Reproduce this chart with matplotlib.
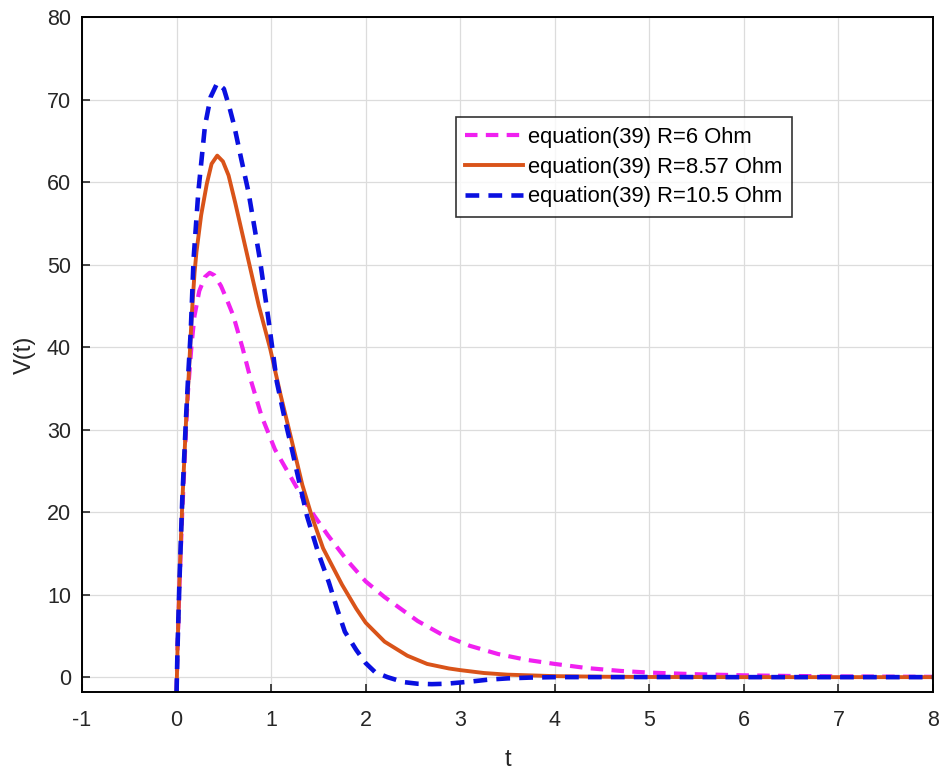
#!/usr/bin/env python3

import numpy as np
import matplotlib
matplotlib.use("Agg")
import matplotlib.pyplot as plt


# values
T_R6 = [0, 0.01, 0.03, 0.06, 0.1, 0.12, 0.16, 0.19, 0.24, 0.3, 0.35, 0.4,
        0.47, 0.53, 0.6, 0.7, 0.79, 0.9, 1.04, 1.2, 1.35, 1.46, 1.6, 1.8,
        2.0, 2.2, 2.55, 2.8, 3.1, 3.4, 3.7, 4.0, 4.34, 4.7, 5.0, 5.5, 6.0,
        6.5, 7.0, 7.5, 8.0]
V_R6 = [-1.8, 3.5, 11, 20, 30, 34.5, 40.5, 43.8, 46.8, 48.5, 49.0, 48.7,
        47.4, 45.8, 43.8, 39.8, 35.8, 31.6, 27.6, 24.4, 21.4, 19.5, 17.2, 14.2,
        11.6, 9.7, 6.8, 5.2, 3.8, 2.8, 2.1, 1.6, 1.1, 0.75, 0.55, 0.35, 0.22,
        0.14, 0.09, 0.06, 0.04]

T_R857 = [0, 0.01, 0.03, 0.06, 0.1, 0.125, 0.16, 0.19, 0.21, 0.26, 0.32,
          0.37, 0.43, 0.49, 0.55, 0.62, 0.67, 0.73, 0.8, 0.87, 0.99, 1.1,
          1.24, 1.33, 1.43, 1.55, 1.75, 1.9, 2.0, 2.2, 2.44, 2.65, 2.88, 3.0,
          3.25, 3.5, 4.0, 4.5, 5.0, 6.0, 7.0, 8.0]
V_R857 = [-1.8, 3.5, 11.5, 21, 31, 35.8, 43.8, 49, 51.5, 56, 59.8,
          62.2, 63.2, 62.5, 60.8, 57.5, 55, 52, 48.5, 45, 39.8, 34.2,
          27.6, 23.3, 19.5, 15.6, 11.2, 8.3, 6.6, 4.3, 2.6, 1.6, 1.05, 0.85,
          0.5, 0.3, 0.12, 0.05, 0.02, 0.0, 0.0, 0.0]

T_R105 = [0, 0.01, 0.03, 0.06, 0.1, 0.125, 0.15, 0.18, 0.23, 0.3, 0.36,
          0.43, 0.5, 0.56, 0.61, 0.68, 0.76, 0.88, 0.97, 1.06, 1.14, 1.22,
          1.3, 1.38, 1.5, 1.61, 1.7, 1.78, 1.9, 2.0, 2.1, 2.23, 2.4, 2.55,
          2.7, 2.85, 3.0, 3.14, 3.3, 3.5, 3.75, 4.0, 5.0, 6.0, 7.0, 8.0]
V_R105 = [-1.8, 3.5, 11.5, 21.5, 31.5, 37, 42, 50.7, 58.8, 66.8, 70.3,
          72, 71.3, 69, 66.8, 63, 58.8, 50.7, 43.5, 35.8, 31.5, 27.6,
          23.5, 19.5, 15, 11.5, 8.2, 5.5, 3.3, 1.7, 0.6, 0.0, -0.6, -0.8,
          -0.85, -0.8, -0.65, -0.5, -0.3, -0.15, -0.05, 0.0, 0.01, 0.0, 0.0, 0.0]

LABELS = ["equation(39) R=6 Ohm", "equation(39) R=8.57 Ohm", "equation(39) R=10.5 Ohm"]
X_TICKS = [-1, 0, 1, 2, 3, 4, 5, 6, 7, 8]
Y_TICKS = [0, 10, 20, 30, 40, 50, 60, 70, 80]


def main():
    plt.rcParams["font.family"] = ["Liberation Sans", "DejaVu Sans"]

    fig = plt.figure(figsize=(9.45, 7.73), dpi=100)
    ax = fig.add_axes([0.0868, 0.1048, 0.9005, 0.8732])

    l1, = ax.plot(T_R6, V_R6, color="#f020f0", lw=3.0, label=LABELS[0])
    l1.set_dashes((3, 2))
    ax.plot(T_R857, V_R857, color="#d95319", lw=2.8, label=LABELS[1])
    l3, = ax.plot(T_R105, V_R105, color="#0a10e0", lw=3.3, label=LABELS[2])
    l3.set_dashes((3, 2))

    ax.set_xlim(-1, 8)
    ax.set_ylim(-1.8, 80)
    ax.set_xticks(X_TICKS)
    ax.set_xticklabels([str(x) for x in X_TICKS])
    ax.set_yticks(Y_TICKS)
    ax.set_yticklabels([str(y) for y in Y_TICKS])

    ax.grid(True, color="#dcdcdc", lw=0.9)
    ax.set_axisbelow(True)
    ax.tick_params(direction="in", length=6, width=1.2, labelsize=15.5,
                   colors="#262626")
    ax.tick_params(axis="x", pad=13)
    ax.tick_params(axis="y", pad=8)
    for sp in ax.spines.values():
        sp.set_linewidth(1.4)
        sp.set_color("#000000")

    ax.set_xlabel("t", fontsize=17, color="#262626", labelpad=13)
    ax.set_ylabel("V(t)", fontsize=17, color="#262626", labelpad=8)

    leg = ax.legend(loc="upper left", bbox_to_anchor=(0.439, 0.852),
                    fontsize=15.8, frameon=True, fancybox=False,
                    handlelength=2.6, handletextpad=0.25, borderpad=0.45,
                    labelspacing=0.4, borderaxespad=0)
    leg.get_frame().set_edgecolor("#000000")
    leg.get_frame().set_linewidth(1.2)

    fig.savefig("out.png", dpi=100)
    plt.close(fig)


if __name__ == "__main__":
    main()
